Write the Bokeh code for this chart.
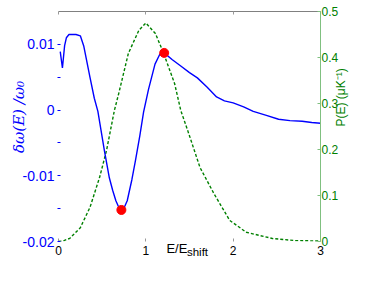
import math
from bokeh.plotting import figure
from bokeh.models import Range1d, LinearAxis, FixedTicker
from bokeh.embed import file_html
from bokeh.resources import INLINE

# ---- data ----
blue_x = [0.02, 0.045, 0.07, 0.09, 0.12, 0.20, 0.25, 0.29, 0.36, 0.41, 0.451,
          0.526, 0.582, 0.62, 0.657, 0.69, 0.72, 0.75, 0.787, 0.84, 0.881,
          0.93, 0.974, 1.03, 1.105, 1.16, 1.21, 1.30, 1.40, 1.50, 1.59, 1.70,
          1.81, 1.90, 2.00, 2.12, 2.23, 2.38, 2.52, 2.65, 2.79, 2.90, 3.0]
blue_y = [0.0089, 0.0064, 0.0098, 0.0110, 0.0115, 0.0115, 0.0113, 0.0097,
          0.0050, 0.0018, -0.0002, -0.0062, -0.0103, -0.0122, -0.0138,
          -0.0148, -0.0152, -0.0149, -0.0138, -0.0106, -0.0077, -0.0040,
          -0.0003, 0.0031, 0.0070, 0.0085, 0.0087, 0.0077, 0.0067, 0.0057,
          0.0049, 0.0035, 0.0020, 0.0014, 0.0011, 0.0005, -0.0002, -0.0008,
          -0.0014, -0.0016, -0.0017, -0.0019, -0.0020]

green_x = [0.0, 0.05, 0.13, 0.25, 0.36, 0.47, 0.55, 0.64, 0.69, 0.80, 0.92,
           1.0, 1.11, 1.20, 1.33, 1.40, 1.48, 1.62, 1.78, 1.96, 2.15, 2.45,
           2.71, 3.0]
green_y = [0.0, 0.001, 0.007, 0.030, 0.074, 0.139, 0.198, 0.285, 0.322, 0.409,
           0.459, 0.475, 0.452, 0.411, 0.343, 0.285, 0.241, 0.161, 0.104,
           0.046, 0.020, 0.0065, 0.002, 0.001]

dot_x = [0.72, 1.21]
dot_y = [-0.0152, 0.0087]

left_ticks = [-0.02, -0.01, 0.0, 0.01]
left_minor = [-0.015, -0.005, 0.005]
left_labels = ["-0.02", "-0.01", "0", "0.01"]
right_ticks = [0.0, 0.1, 0.2, 0.3, 0.4, 0.5]
right_labels = ["0", "0.1", "0.2", "0.3", "0.4", "0.5"]
x_ticks = [0, 1, 2, 3]

NB = "\u00a0"
left_title = NB * 4 + "δω(E) /ω₀"
right_title = "P(E) (μK⁻¹)" + NB * 3
x_title = "E/E" + NB * 7
x_title_sub = NB * 5 + "shift"

BLUE = "#0000ff"
GREEN = "#008000"
FONT = "Liberation Sans"

p = figure(width=358, height=265, output_backend="svg", toolbar_location=None,
           x_range=Range1d(0, 3), y_range=Range1d(-0.02, 0.015),
           min_border_left=58, min_border_right=32, min_border_top=11,
           min_border_bottom=24)
p.outline_line_color = None
p.grid.visible = False
p.background_fill_color = "white"

p.extra_y_ranges = {"p": Range1d(0, 0.5)}

# left axis
ya = p.yaxis[0]
ya.ticker = FixedTicker(ticks=left_ticks, minor_ticks=left_minor)
ya.major_label_overrides = {t: l for t, l in zip(left_ticks, left_labels)}
ya.axis_line_color = None
ya.major_tick_line_color = BLUE
ya.minor_tick_line_color = BLUE
ya.major_tick_in = 2
ya.major_tick_out = 1
ya.minor_tick_in = 2
ya.minor_tick_out = 1
ya.major_label_text_color = BLUE
ya.major_label_text_font = FONT
ya.major_label_text_font_size = "14px"
ya.major_label_standoff = 3
ya.axis_label = left_title
ya.axis_label_text_color = BLUE
ya.axis_label_text_font = "DejaVu Serif"
ya.axis_label_text_font_style = "italic"
ya.axis_label_text_font_size = "15px"
ya.axis_label_standoff = -8

# bottom axis
xa = p.xaxis[0]
xa.ticker = FixedTicker(ticks=x_ticks)
xa.axis_line_color = None
xa.major_tick_line_color = "#999999"
xa.major_tick_in = 3
xa.major_tick_out = 0
xa.minor_tick_line_color = None
xa.major_label_text_color = "black"
xa.major_label_text_font = FONT
xa.major_label_text_font_size = "12px"
xa.major_label_standoff = 4
xa.axis_label = x_title
xa.axis_label_text_color = "black"
xa.axis_label_text_font = FONT
xa.axis_label_text_font_style = "normal"
xa.axis_label_text_font_size = "13px"
xa.axis_label_standoff = -17

# second bottom axis only carrying the subscript
sa = LinearAxis(ticker=FixedTicker(ticks=[]), axis_line_color=None,
                major_tick_line_color=None, minor_tick_line_color=None,
                major_tick_in=0, major_tick_out=0,
                major_label_standoff=0, axis_label=x_title_sub,
                axis_label_text_color="black", axis_label_text_font=FONT,
                axis_label_text_font_style="normal",
                axis_label_text_font_size="11.5px", axis_label_standoff=-13)
p.add_layout(sa, "below")

# top axis (box line with inward ticks)
ta = LinearAxis(ticker=FixedTicker(ticks=[], minor_ticks=x_ticks),
                axis_line_color="#808080", major_tick_line_color=None,
                major_tick_in=0, major_tick_out=0,
                minor_tick_line_color="#999999", minor_tick_in=3,
                minor_tick_out=0, major_label_standoff=0)
p.add_layout(ta, "above")

# right axis
ra = LinearAxis(y_range_name="p", ticker=FixedTicker(ticks=right_ticks),
                axis_line_color="#80c080", major_tick_line_color="#80c080",
                major_tick_in=3, major_tick_out=0, minor_tick_line_color=None,
                major_label_text_color=GREEN, major_label_text_font=FONT,
                major_label_text_font_size="12px", major_label_standoff=1,
                axis_label=right_title, axis_label_text_color=GREEN,
                axis_label_text_font=FONT, axis_label_text_font_style="normal",
                axis_label_text_font_size="12px", axis_label_standoff=0)
ra.major_label_overrides = {t: l for t, l in zip(right_ticks, right_labels)}
try:
    ra.axis_label_orientation = math.pi / 2
except Exception:
    pass
p.add_layout(ra, "right")

# data
p.line(green_x, green_y, y_range_name="p", line_color=GREEN, line_width=1.4,
       line_dash="3 2")
p.line(blue_x, blue_y, line_color=BLUE, line_width=1.4)
p.scatter(dot_x, dot_y, size=9, fill_color="red", line_color="red")

open("out.html", "w").write(file_html(p, INLINE))
